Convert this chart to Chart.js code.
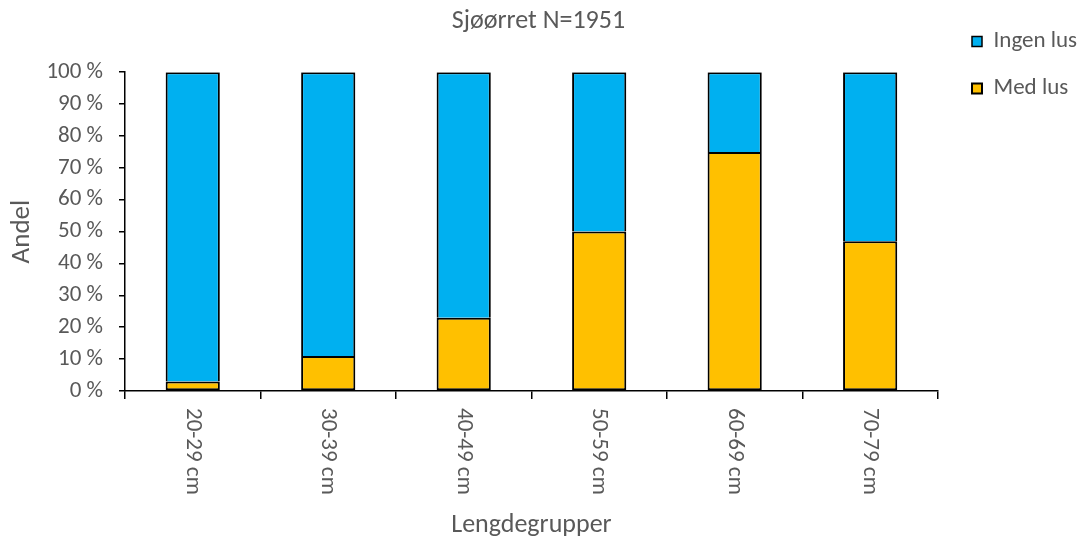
<!DOCTYPE html>
<html>
<head>
<meta charset="utf-8">
<script src="https://cdn.jsdelivr.net/npm/chart.js@4/dist/chart.umd.min.js"></script>
<style>
  html, body { margin: 0; padding: 0; background: #fff; }
  #wrap { width: 1085px; height: 544px; }
</style>
</head>
<body>
<div id="wrap"><canvas id="c" width="1085" height="544"></canvas></div>
<script>
const categories = ['20-29 cm', '30-39 cm', '40-49 cm', '50-59 cm', '60-69 cm', '70-79 cm'];
const medLus = [3, 11, 23, 50, 75, 47];
const ingenLus = [97, 89, 77, 50, 25, 53];
const yTicks = [0, 10, 20, 30, 40, 50, 60, 70, 80, 90, 100];
const chartTitle = 'Sjøørret N=1951';
const xTitle = 'Lengdegrupper';
const yTitle = 'Andel';

const FONT = 'Carlito, Calibri, Lato, sans-serif';
const GREY = '#595959';

const xLabelPlugin = {
  id: 'xLabelsDown',
  afterDraw(chart) {
    const s = chart.scales.x;
    const ctx = chart.ctx;
    ctx.save();
    ctx.font = '23px ' + FONT;
    ctx.fillStyle = GREY;
    ctx.textAlign = 'left';
    ctx.textBaseline = 'middle';
    categories.forEach((c, i) => {
      const x = s.getPixelForTick(i);
      const y = s.top + 17;
      ctx.save();
      ctx.translate(x, y);
      ctx.rotate(Math.PI / 2);
      ctx.fillText(c, 0, 0);
      ctx.restore();
    });
    ctx.restore();
  }
};

const legendPlace = {
  id: 'legendPlace',
  afterLayout(chart) {
    const lg = chart.legend;
    if (lg) {
      const w = lg.width;
      lg.left = 948;
      lg.right = 948 + w;
    }
  }
};

new Chart(document.getElementById('c'), {
  type: 'bar',
  data: {
    labels: categories,
    datasets: [
      {
        label: 'Med lus',
        data: medLus,
        backgroundColor: '#FFC000',
        borderColor: '#000000',
        borderWidth: 2,
        borderSkipped: false,
        barPercentage: 0.4,
        categoryPercentage: 1.0
      },
      {
        label: 'Ingen lus',
        data: ingenLus,
        backgroundColor: '#00B0F0',
        borderColor: '#000000',
        borderWidth: { top: 2, left: 2, right: 2, bottom: 0 },
        borderSkipped: false,
        barPercentage: 0.4,
        categoryPercentage: 1.0
      }
    ]
  },
  options: {
    responsive: false,
    animation: false,
    devicePixelRatio: 1,
    layout: { padding: { top: 6, right: 8, bottom: 0, left: 0 } },
    plugins: {
      title: {
        display: true,
        text: chartTitle,
        color: GREY,
        font: { family: FONT, size: 26, weight: 'normal' },
        padding: { top: 0, bottom: 35 }
      },
      legend: {
        position: 'right',
        align: 'start',
        reverse: true,
        labels: {
          color: GREY,
          font: { family: FONT, size: 23 },
          boxWidth: 10,
          boxHeight: 10,
          padding: 24
        }
      },
      tooltip: { enabled: false }
    },
    scales: {
      x: {
        stacked: true,
        afterFit(scale) { scale.height = 153; },
        grid: {
          display: true,
          drawOnChartArea: false,
          drawTicks: true,
          tickLength: 8,
          color: '#000000',
          lineWidth: 1.5,
          offset: true
        },
        border: { display: true, color: '#000000', width: 1.5 },
        ticks: {
          color: 'rgba(0,0,0,0)',
          font: { family: FONT, size: 23 },
          minRotation: 90,
          maxRotation: 90,
          autoSkip: false
        },
        title: {
          display: true,
          text: xTitle,
          color: GREY,
          font: { family: FONT, size: 26 },
          padding: { top: 4, bottom: 3 }
        }
      },
      y: {
        stacked: true,
        min: 0,
        max: 100,
        afterFit(scale) { scale.width = 125; },
        afterBuildTicks(scale) { scale.ticks = yTicks.map(v => ({ value: v })); },
        grid: {
          display: true,
          drawOnChartArea: false,
          drawTicks: true,
          tickLength: 6,
          color: '#000000',
          lineWidth: 1.5
        },
        border: { display: true, color: '#000000', width: 1.5 },
        ticks: {
          color: GREY,
          font: { family: FONT, size: 23 },
          padding: 16,
          callback: (v) => v + ' %'
        },
        title: {
          display: true,
          text: yTitle,
          color: GREY,
          font: { family: FONT, size: 27 },
          padding: { top: 6, bottom: 4 }
        }
      }
    }
  },
  plugins: [xLabelPlugin, legendPlace]
});
</script>
</body>
</html>
